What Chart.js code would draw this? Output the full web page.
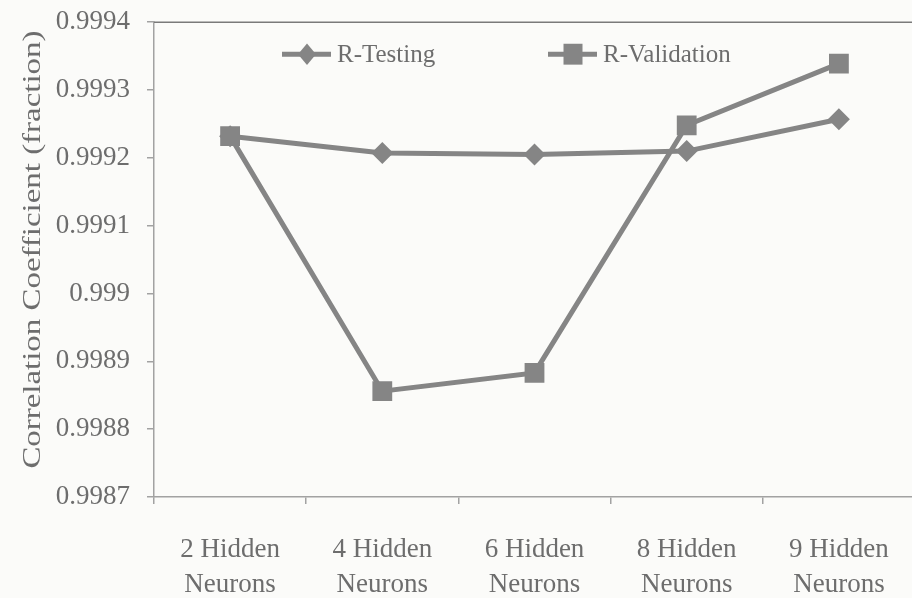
<!DOCTYPE html>
<html>
<head>
<meta charset="utf-8">
<script src="https://cdn.jsdelivr.net/npm/chart.js@4.4.1/dist/chart.umd.min.js"></script>
<style>
  html, body { margin: 0; padding: 0; background: #fbfbf9; overflow: hidden; }
  #wrap { position: relative; width: 912px; height: 598px; overflow: hidden; }
  #c { display: block; position: absolute; left: 0; top: -11px; }
</style>
</head>
<body>
<div id="wrap"><canvas id="c" width="929" height="609"></canvas></div>
<script>
// Network sizes compared
const categories = [
  ['2 Hidden', 'Neurons'],
  ['4 Hidden', 'Neurons'],
  ['6 Hidden', 'Neurons'],
  ['8 Hidden', 'Neurons'],
  ['9 Hidden', 'Neurons']
];

// Correlation coefficients per network size
const rTesting    = [0.999232, 0.999207, 0.999205, 0.999210, 0.999257];
const rValidation = [0.999232, 0.998856, 0.998883, 0.999248, 0.999339];

// Y axis tick values
const yTicks = [0.9987, 0.9988, 0.9989, 0.9990, 0.9991, 0.9992, 0.9993, 0.9994];

const seriesNames = ['R-Testing', 'R-Validation'];
const yTitle = 'Correlation Coefficient (fraction)';

const FONT = "'Liberation Serif', 'Times New Roman', serif";
const INK = '#6d6d6d';
const LINE = '#858585';
const AXIS = '#a2a2a2';

function markerPath(ctx, style, x, y, r) {
  ctx.beginPath();
  if (style === 'rect') {
    ctx.rect(x - r, y - r * 1.1, 2 * r, 2.2 * r);
  } else {
    ctx.moveTo(x, y - r * 1.2);
    ctx.lineTo(x + r, y);
    ctx.lineTo(x, y + r * 1.2);
    ctx.lineTo(x - r, y);
    ctx.closePath();
  }
}

const decorations = {
  id: 'decorations',
  beforeDraw(chart) {
    const ctx = chart.ctx;
    ctx.save();
    ctx.fillStyle = '#fbfbf9';
    ctx.fillRect(0, 0, chart.width, chart.height);
    ctx.restore();
  },
  afterDraw(chart) {
    const ctx = chart.ctx;
    const a = chart.chartArea;
    ctx.save();
    // top frame line
    ctx.strokeStyle = '#7a7a7a';
    ctx.lineWidth = 1.5;
    ctx.beginPath();
    ctx.moveTo(a.left, a.top);
    ctx.lineTo(a.right, a.top);
    ctx.stroke();

    // rotated y axis title, stretched along its length
    ctx.fillStyle = INK;
    ctx.font = '25px ' + FONT;
    ctx.textAlign = 'center';
    ctx.textBaseline = 'middle';
    const w = ctx.measureText(yTitle).width;
    ctx.translate(33, (a.top + a.bottom) / 2 - 10);
    ctx.rotate(-Math.PI / 2);
    ctx.scale(438 / w, 1);
    ctx.fillText(yTitle, 0, 0);
    ctx.restore();

    // legend inside the plot area
    const items = [
      { x: a.left + 128, style: 'rectRot', r: 9 },
      { x: a.left + 394, style: 'rect', r: 9.5 }
    ];
    const ly = a.top + 32;
    ctx.save();
    items.forEach((it, i) => {
      ctx.strokeStyle = LINE;
      ctx.lineWidth = 5;
      ctx.beginPath();
      ctx.moveTo(it.x, ly);
      ctx.lineTo(it.x + 49, ly);
      ctx.stroke();
      ctx.fillStyle = LINE;
      markerPath(ctx, it.style, it.x + 25, ly, it.r);
      ctx.fill();
      ctx.fillStyle = INK;
      ctx.font = '25px ' + FONT;
      ctx.textAlign = 'left';
      ctx.textBaseline = 'middle';
      ctx.fillText(seriesNames[i], it.x + 55, ly + 1);
    });
    ctx.restore();
  }
};

const styleOf = ['rectRot', 'rect'];

new Chart(document.getElementById('c'), {
  type: 'line',
  data: {
    labels: categories,
    datasets: [
      {
        label: seriesNames[0],
        data: rTesting,
        borderColor: LINE,
        backgroundColor: LINE,
        borderWidth: 5,
        pointStyle: styleOf[0],
        pointRadius: 11,
        pointBorderWidth: 0,
        pointBackgroundColor: LINE,
        tension: 0,
        order: 2
      },
      {
        label: seriesNames[1],
        data: rValidation,
        borderColor: LINE,
        backgroundColor: LINE,
        borderWidth: 5,
        pointStyle: styleOf[1],
        pointRadius: 14,
        pointBorderWidth: 0,
        pointBackgroundColor: LINE,
        tension: 0,
        order: 1
      }
    ]
  },
  options: {
    responsive: false,
    animation: false,
    devicePixelRatio: 1,
    layout: { padding: { top: 10, right: 0, left: 0, bottom: 0 } },
    plugins: {
      legend: { display: false },
      tooltip: { enabled: false }
    },
    scales: {
      x: {
        type: 'category',
        offset: true,
        afterFit(scale) { scale.height = 101; },
        grid: {
          offset: true,
          drawOnChartArea: false,
          drawTicks: true,
          tickLength: 7,
          color: AXIS,
          lineWidth: 1.5
        },
        border: { display: true, color: AXIS, width: 1.5 },
        ticks: {
          color: INK,
          font: { family: FONT, size: 27, lineHeight: 1.28 },
          padding: 29,
          maxRotation: 0,
          autoSkip: false
        }
      },
      y: {
        type: 'linear',
        min: yTicks[0],
        max: yTicks[yTicks.length - 1],
        afterFit(scale) { scale.width = 154; },
        afterBuildTicks(scale) { scale.ticks = yTicks.map(v => ({ value: v })); },
        grid: {
          drawOnChartArea: false,
          drawTicks: true,
          tickLength: 7,
          color: AXIS,
          lineWidth: 1.5
        },
        border: { display: true, color: AXIS, width: 1.5 },
        ticks: {
          color: INK,
          font: { family: FONT, size: 27 },
          padding: 17,
          callback: v => String(Number(v.toFixed(4)))
        }
      }
    }
  },
  plugins: [decorations]
});
</script>
</body>
</html>
